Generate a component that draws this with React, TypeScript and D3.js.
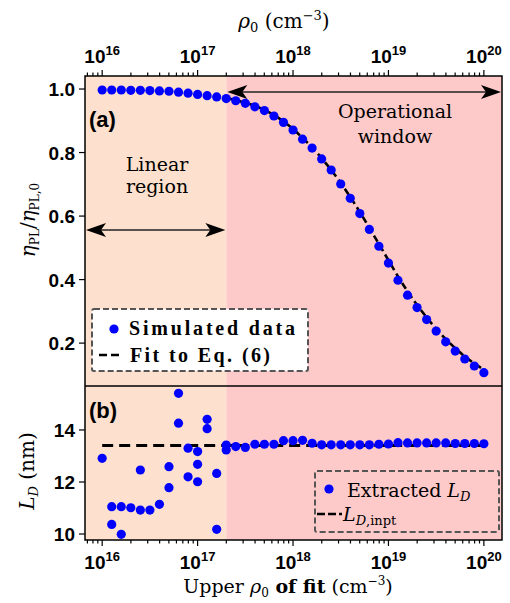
import React from "react";
import * as d3 from "d3";

// panel (a): simulated PL efficiency ratio vs upper rho0 (log10 exponent)
const simExp = [16.0, 16.1, 16.2, 16.3, 16.4, 16.5, 16.6, 16.7, 16.8, 16.9,
  17.0, 17.1, 17.2, 17.3, 17.4, 17.5, 17.6, 17.7, 17.8, 17.9,
  18.0, 18.1, 18.2, 18.3, 18.4, 18.5, 18.6, 18.7, 18.8, 18.9,
  19.0, 19.1, 19.2, 19.3, 19.4, 19.5, 19.6, 19.7, 19.8, 19.9, 20.0];
const simVal = [0.997, 0.997, 0.997, 0.996, 0.996, 0.995, 0.994, 0.993, 0.990, 0.987,
  0.983, 0.979, 0.975, 0.970, 0.963, 0.955, 0.944, 0.932, 0.915, 0.895,
  0.871, 0.842, 0.814, 0.780, 0.745, 0.701, 0.656, 0.608, 0.558, 0.505,
  0.452, 0.398, 0.351, 0.312, 0.274, 0.238, 0.204, 0.175, 0.150, 0.128, 0.107];

// fit to Eq. (6)
const fitExp = [17.3, 17.4, 17.5, 17.6, 17.7, 17.8, 17.9, 18.0, 18.1, 18.2,
  18.3, 18.4, 18.5, 18.6, 18.7, 18.8, 18.9, 19.0, 19.1, 19.2,
  19.3, 19.4, 19.5, 19.6, 19.7, 19.8, 19.9, 20.0];
const fitVal = [0.972, 0.965, 0.957, 0.947, 0.934, 0.918, 0.898, 0.874, 0.846, 0.816,
  0.782, 0.745, 0.704, 0.660, 0.613, 0.563, 0.512, 0.461, 0.410, 0.363,
  0.320, 0.281, 0.245, 0.213, 0.184, 0.158, 0.136, 0.116];

// panel (b): extracted L_D (nm)
const ldExp = [16.0, 16.1, 16.1, 16.2, 16.2, 16.3, 16.4, 16.4, 16.5, 16.6,
  16.7, 16.7, 16.8, 16.8, 16.9, 16.9, 17.0, 17.0, 17.0, 17.1,
  17.1, 17.2, 17.2, 17.3, 17.3, 17.4, 17.5, 17.6, 17.7, 17.8,
  17.9, 18.0, 18.1, 18.2, 18.3, 18.4, 18.5, 18.6, 18.7, 18.8,
  18.9, 19.0, 19.1, 19.2, 19.3, 19.4, 19.5, 19.6, 19.7, 19.8,
  19.9, 20.0];
const ldVal = [12.91, 11.05, 10.37, 11.05, 9.99, 11.01, 10.92, 12.46, 10.92, 11.14,
  12.59, 11.78, 15.41, 14.26, 13.30, 12.20, 13.17, 12.68, 12.01, 14.41,
  14.05, 12.33, 10.18, 13.42, 13.23, 13.36, 13.33, 13.45, 13.45, 13.45,
  13.59, 13.59, 13.60, 13.49, 13.43, 13.43, 13.43, 13.43, 13.43, 13.43,
  13.45, 13.46, 13.51, 13.50, 13.50, 13.50, 13.50, 13.50, 13.48, 13.48,
  13.48, 13.47];
const ldInput = 13.4;

const yTicksA = [0.2, 0.4, 0.6, 0.8, 1.0];
const yTicksB = [10, 12, 14];
const boundary = 2e17;

const serif = "'DejaVu Serif', serif";
const serif2 = "'Liberation Serif', serif";
const sans = "'Liberation Sans', Arial, sans-serif";

const W = 510, H = 603;
const L = 85, R = 502, TOP = 76, MID = 386, BOT = 540;

const x = d3.scaleLog().domain([10 ** 15.82, 10 ** 20.19]).range([L, R]);
const ya = d3.scaleLinear().domain([0.065, 1.041]).range([MID, TOP]);
const yb = d3.scaleLinear().domain([9.77, 15.69]).range([BOT, MID]);

const logTicks = x.ticks().filter((t) => x(t) >= L && x(t) <= R);
const isMajor = (t: number) => Math.abs(Math.log10(t) - Math.round(Math.log10(t))) < 1e-6;

const Arrow = ({ x1, x2, y }: { x1: number; x2: number; y: number }) => (
  <g>
    <line x1={x1 + 15} x2={x2 - 15} y1={y} y2={y} stroke="#222" strokeWidth={1.6} />
    <path d={`M${x1},${y} L${x1 + 20},${y - 7} L${x1 + 15},${y} L${x1 + 20},${y + 7} Z`} fill="#000" />
    <path d={`M${x2},${y} L${x2 - 20},${y - 7} L${x2 - 15},${y} L${x2 - 20},${y + 7} Z`} fill="#000" />
  </g>
);

const TickLabel = ({ t, y }: { t: number; y: number }) => (
  <text x={x(t)} y={y} textAnchor="middle" fontFamily={sans} fontWeight="bold" fontSize={19}>
    10<tspan dy={-8} fontSize={13}>{Math.round(Math.log10(t))}</tspan>
  </text>
);

export default function App() {
  const fitLine = d3.line<number>()
    .x((_, i) => x(10 ** fitExp[i]))
    .y((d) => ya(d))
    .curve(d3.curveMonotoneX);
  const xb = x(boundary);

  return (
    <div style={{ position: "absolute", left: 0, top: 0 }}>
      <svg width={W} height={H} style={{ display: "block", background: "#fff" }}>
        {/* shaded regions */}
        <rect x={L} y={TOP} width={xb - L} height={BOT - TOP} fill="#fde0cd" />
        <rect x={xb} y={TOP} width={R - xb} height={BOT - TOP} fill="#fdc9c9" />

        {/* panel (a) */}
        <path d={fitLine(fitVal) || ""} fill="none" stroke="#000" strokeWidth={2.6} strokeDasharray="7,4" />
        {simVal.map((v, i) => (
          <circle key={i} cx={x(10 ** simExp[i])} cy={ya(v)} r={4.6} fill="#0000ff" />
        ))}
        <Arrow x1={xb + 1} x2={R - 1} y={92} />
        <Arrow x1={L + 1} x2={xb - 1} y={230} />
        <text x={395} y={118} textAnchor="middle" fontFamily={serif} fontSize={19}>Operational</text>
        <text x={395} y={143} textAnchor="middle" fontFamily={serif} fontSize={19}>window</text>
        <text x={157} y={171} textAnchor="middle" fontFamily={serif} fontSize={19}>Linear</text>
        <text x={157} y={193} textAnchor="middle" fontFamily={serif} fontSize={19}>region</text>
        <text x={89} y={127} fontFamily={sans} fontWeight="bold" fontSize={22}>(a)</text>

        <rect x={92} y={309} width={216} height={62} fill="#fff" stroke="#555" strokeWidth={2} strokeDasharray="6,3" rx={2} />
        <circle cx={114} cy={329} r={4.6} fill="#0000ff" />
        <text x={129} y={335} fontFamily={serif2} fontWeight="bold" fontSize={20} textLength={166} lengthAdjust="spacing">Simulated data</text>
        <line x1={99} x2={122} y1={355} y2={355} stroke="#000" strokeWidth={2.6} strokeDasharray="8,4" />
        <text x={130} y={362} fontFamily={serif2} fontWeight="bold" fontSize={20} textLength={140} lengthAdjust="spacing">Fit to Eq. (6)</text>

        {/* panel (b) */}
        <line x1={x(1e16)} x2={x(1e20)} y1={yb(ldInput)} y2={yb(ldInput)} stroke="#000" strokeWidth={3} strokeDasharray="11,6" />
        {ldVal.map((v, i) => (
          <circle key={i} cx={x(10 ** ldExp[i])} cy={yb(v)} r={4.6} fill="#0000ff" />
        ))}
        <text x={89} y={418} fontFamily={sans} fontWeight="bold" fontSize={22}>(b)</text>

        <rect x={315} y={471} width={184} height={61} fill="none" stroke="#555" strokeWidth={2} strokeDasharray="6,3" rx={2} />
        <circle cx={329} cy={489} r={4.6} fill="#0000ff" />
        <text x={347} y={497} fontFamily={serif} fontSize={19}>
          Extracted <tspan fontStyle="italic">L</tspan><tspan fontStyle="italic" fontSize={13} dy={4}>D</tspan>
        </text>
        <line x1={317} x2={342} y1={514} y2={514} stroke="#000" strokeWidth={2.6} strokeDasharray="8,3" />
        <text x={343} y={521} fontFamily={serif} fontSize={19}>
          <tspan fontStyle="italic">L</tspan><tspan fontSize={13} dy={4}><tspan fontStyle="italic">D</tspan>,inpt</tspan>
        </text>

        {/* frames */}
        <rect x={L} y={TOP} width={R - L} height={BOT - TOP} fill="none" stroke="#000" strokeWidth={1.5} />
        <line x1={L} x2={R} y1={MID} y2={MID} stroke="#000" strokeWidth={1.5} />

        {/* log axes top and bottom */}
        {logTicks.map((t, i) => {
          const m = isMajor(t);
          const len = m ? 6 : 3.5;
          return (
            <g key={i}>
              <line x1={x(t)} x2={x(t)} y1={TOP} y2={TOP - len} stroke="#000" strokeWidth={1.2} />
              <line x1={x(t)} x2={x(t)} y1={BOT} y2={BOT + len} stroke="#000" strokeWidth={1.2} />
            </g>
          );
        })}
        {logTicks.filter(isMajor).map((t, i) => (
          <g key={i}>
            <TickLabel t={t} y={63} />
            <TickLabel t={t} y={569} />
          </g>
        ))}

        {/* y axes */}
        {yTicksA.map((t) => (
          <g key={t}>
            <line x1={L} x2={L - 6} y1={ya(t)} y2={ya(t)} stroke="#000" strokeWidth={1.2} />
            <text x={75} y={ya(t) + 7} textAnchor="end" fontFamily={sans} fontWeight="bold" fontSize={19}>{t.toFixed(1)}</text>
          </g>
        ))}
        {yTicksB.map((t) => (
          <g key={t}>
            <line x1={L} x2={L - 6} y1={yb(t)} y2={yb(t)} stroke="#000" strokeWidth={1.2} />
            <text x={75} y={yb(t) + 7} textAnchor="end" fontFamily={sans} fontWeight="bold" fontSize={19}>{t}</text>
          </g>
        ))}

        {/* axis titles */}
        <text x={284} y={28} textAnchor="middle" fontFamily={serif} fontSize={20}>
          <tspan fontStyle="italic">ρ</tspan><tspan fontSize={13} dy={4}>0</tspan>
          <tspan dy={-4}> (cm</tspan><tspan fontSize={13} dy={-8}>−3</tspan><tspan dy={8}>)</tspan>
        </text>
        <text x={288} y={593} textAnchor="middle" fontFamily={serif} fontSize={19}>
          Upper <tspan fontStyle="italic">ρ</tspan><tspan fontSize={12} dy={4}>0</tspan>
          <tspan dy={-4} fontWeight="bold"> of fit</tspan><tspan> (cm</tspan><tspan fontSize={12} dy={-8}>−3</tspan><tspan dy={8}>)</tspan>
        </text>
        <text transform="translate(35,220) rotate(-90)" textAnchor="middle" fontFamily={serif} fontSize={20}>
          <tspan fontStyle="italic">η</tspan><tspan fontSize={12} dy={4}>PL</tspan><tspan dy={-4}>/</tspan>
          <tspan fontStyle="italic">η</tspan><tspan fontSize={12} dy={4}>PL,0</tspan>
        </text>
        <text transform="translate(34,471) rotate(-90)" textAnchor="middle" fontFamily={serif} fontSize={20}>
          <tspan fontStyle="italic">L</tspan><tspan fontStyle="italic" fontSize={13} dy={4}>D</tspan><tspan dy={-4}> (nm)</tspan>
        </text>
      </svg>
    </div>
  );
}
